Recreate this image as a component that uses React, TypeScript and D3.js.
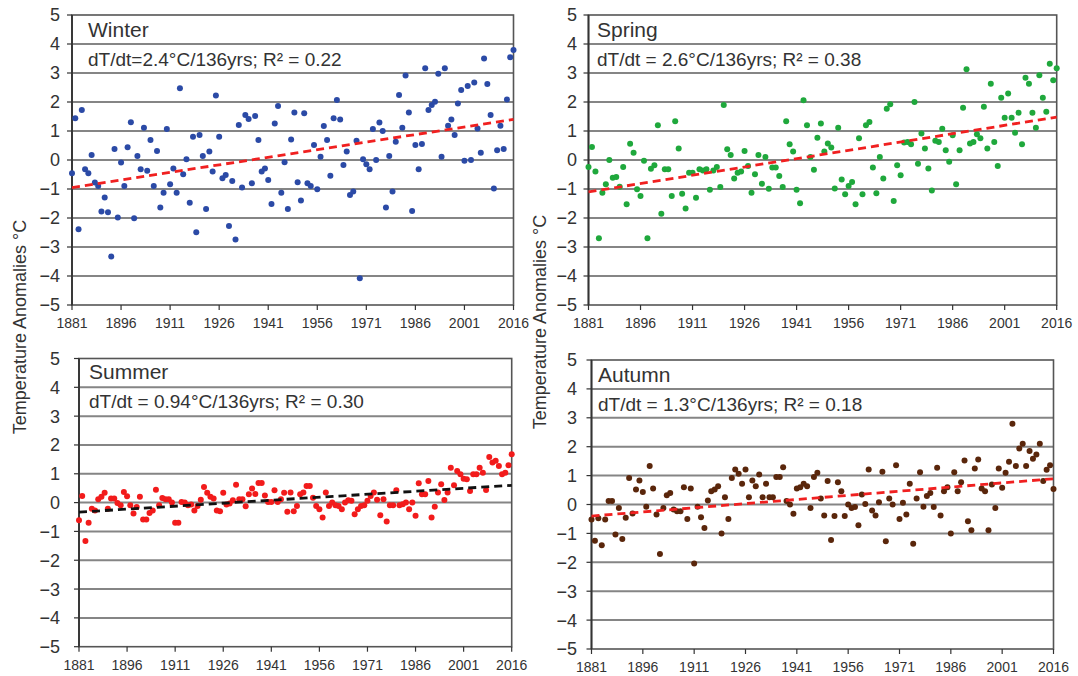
import React from 'react';
import * as d3 from 'd3';

const YEARS = d3.range(1881, 2017);
const X_TICKS = d3.range(1881, 2017, 15);
const Y_TICKS = d3.range(-5, 6);

const SEASONS = ['Winter', 'Spring', 'Summer', 'Autumn'];
const STATS = [
  'dT/dt=2.4°C/136yrs; R² = 0.22',
  'dT/dt = 2.6°C/136yrs; R² = 0.38',
  'dT/dt = 0.94°C/136yrs; R² = 0.30',
  'dT/dt = 1.3°C/136yrs; R² = 0.18',
];

const winter = [
  -0.46, 1.44, -2.39, 1.72, -0.32, -0.46, 0.17, -0.78, -0.9, -1.78,
  -1.29, -1.8, -3.33, 0.38, -1.98, -0.09, -0.9, 0.44, 1.3, -2.01,
  0.14, -0.32, 1.11, -0.37, 0.69, -0.9, 0.31, -1.64, -1.13, 1.07,
  -0.84, -0.29, -1.13, 2.47, -0.49, 0.03, -1.47, 0.8, -2.49, 0.86,
  0.14, -1.69, 0.29, -0.4, 2.22, 0.8, -0.63, -0.52, -2.28, -0.72,
  -2.74, 1.21, -0.95, 1.55, 1.41, -0.8, 1.52, 0.69, -0.4, -0.29,
  -0.69, -1.52, 1.26, 1.86, -1.13, -0.08, -1.69, 0.71, 1.64, -0.77,
  -1.4, 1.61, -0.8, -0.9, 0.52, -1.01, 0.11, 1.17, 0.69, -0.54,
  1.44, 2.07, 1.4, -0.17, 0.29, -1.21, -1.09, 0.66, -4.08, 0.03,
  -0.15, -0.32, 1.07, 0, 1.29, 1.0, -1.64, 0.14, -1.09, 0.63,
  2.24, 1.11, 2.91, 1.64, -1.76, 0.52, -0.32, 0.55, 3.16, 1.72,
  1.9, 2.01, 2.97, 0.11, 3.16, 1.18, 1.4, 0.86, 1.95, 2.41,
  -0.03, 2.55, 0, 2.67, 1.09, 0.25, 3.5, 2.62, 1.55, -0.98,
  0.34, 1.18, 0.38, 2.09, 3.54, 3.79,
];

const spring = [
  -0.24, 0.45, -0.4, -2.7, -1.13, -0.84, 0, -0.61, -0.59, -0.92,
  -0.24, -1.53, 0.56, 0.25, -1.01, -1.24, -0.03, -2.7, -0.3, -0.18,
  1.2, -1.85, -0.32, -0.32, -1.24, 1.34, 0.4, -1.16, -1.67, -0.44,
  -0.44, -1.3, -0.32, -0.36, -0.32, -1.03, -0.36, -0.24, -0.93, 1.9,
  0.37, 0.17, -0.64, -0.44, -0.4, 0.31, -0.21, -1.13, -0.49, 0.17,
  -0.82, 0.1, -0.99, -0.26, -0.26, -0.55, -0.93, 1.34, 0.54, 0.29,
  -1.03, -1.49, 2.06, 1.2, 0.1, -0.34, 0.77, 1.26, 0.29, 0.57,
  0.43, -0.98, 1.11, -0.67, -1.18, -0.9, -0.76, -1.53, 0.75, -1.18,
  1.2, 1.31, -0.26, -1.15, 0.1, -0.64, 1.77, 1.92, -1.41, -0.18,
  -0.53, 0.6, 0.62, 0.54, 2.0, -0.13, 0.91, 0.4, -0.29, -1.05,
  0.66, 0.62, 1.08, 0.34, -0.06, 0.85, -0.84, 0.34, 1.8, 3.13,
  0.57, 0.62, 0.89, 0.75, 1.84, 0.4, 2.63, 0.62, -0.21, 2.15,
  1.46, 2.29, 1.46, 0.94, 1.63, 0.54, 2.84, 2.63, 1.63, 1.11,
  2.92, 2.15, 1.66, 3.32, 2.75, 3.16,
];

const summer = [
  -0.61, 0.23, -1.33, -0.7, -0.21, -0.27, 0.12, 0.2, 0.34, -0.21,
  0.14, 0.14, -0.01, -0.09, 0.37, 0.22, -0.09, -0.38, -0.15, 0.2,
  -0.59, -0.59, -0.36, -0.27, 0.45, -0.09, 0.16, 0.12, 0.12, 0.0,
  -0.7, -0.7, 0.02, 0, -0.09, -0.07, -0.27, -0.12, 0.1, 0.54,
  0.34, 0.2, 0.14, -0.27, -0.3, 0.34, -0.07, -0.03, 0.08, 0.62,
  0.12, 0.12, -0.13, 0.29, 0.49, 0.3, 0.68, 0.68, 0.25, 0.02,
  0.02, 0.43, 0.02, 0.12, 0.34, -0.32, 0.35, -0.3, -0.12, 0.29,
  0.35, 0.58, 0.58, 0.17, -0.12, -0.23, -0.52, 0.35, -0.12, 0,
  -0.09, -0.12, -0.23, 0, 0.08, 0.06, -0.4, -0.23, -0.12, -0.09,
  0.06, 0.23, 0.35, 0.1, -0.44, 0.12, -0.66, -0.09, -0.09, 0.43,
  -0.09, -0.06, 0, -0.23, 0.0, -0.46, 0.67, 0.29, 0.29, 0.75,
  -0.52, -0.14, 0.35, 0.64, 0.09, 0.35, 1.21, 0.6, 1.1, 0.98,
  0.83, 0.81, 0.4, 0.98, 0.98, 1.21, 1.04, 0.44, 1.58, 1.39,
  1.45, 1.27, 0.98, 1.04, 1.3, 1.68,
];

const autumn = [
  -0.52, -1.25, -0.48, -1.41, -0.52, 0.12, 0.12, -1.04, -0.12, -1.19,
  -0.46, 0.92, -0.31, 0.52, 0.83, 0.43, -0.08, 1.33, 0.55, -0.35,
  -1.71, -0.12, 0.32, 0.4, -0.17, -0.23, -0.23, 0.6, -0.5, 0.55,
  -2.04, -0.08, -0.44, -0.81, 0.14, 0.46, 0.52, 0.63, -1.0, 0.25,
  -0.5, 0.92, 1.21, 1.06, 0.72, 1.21, 0.25, 0.83, 0.63, 1.04,
  0.25, 0.72, 0.25, 0.25, 0.95, 0.95, 1.29, 0.12, 0, -0.32,
  0.55, 0.6, 0.72, 0.63, -0.12, 0.95, 1.1, 0.21, -0.38, 0.81,
  -1.23, -0.4, 0.77, 0.46, -0.4, 0, -0.12, -0.09, -0.72, 0.35,
  0.02, 1.21, -0.21, -0.38, 0.08, 1.13, -1.27, 0.21, 0, 1.36,
  -0.5, 0.06, -0.35, 0.72, -1.36, 0.21, 1.12, -0.08, 0.29, 0.4,
  -0.09, 1.27, -0.38, 0.46, 0.6, -1.0, 1.12, 0.46, 0.77, 1.52,
  -0.58, -0.89, 1.25, 1.56, 0.55, 0.46, -0.89, 0.69, -0.12, 1.25,
  0.58, 1.1, 1.48, 2.79, 1.33, 1.94, 2.1, 1.33, 1.85, 1.58,
  1.73, 2.1, 0.81, 1.2, 1.36, 0.54,
];

const SERIES = [winter, spring, summer, autumn];
const TREND_START = [-0.95, -1.1, -0.33, -0.4];
const TREND_END = [1.4, 1.48, 0.6, 0.89];

const DOT_COLORS = ['#2b4aa6', '#1fa83c', '#f21b1b', '#5a260b'];
const TREND_COLORS = ['#f02020', '#f02020', '#111111', '#f02020'];

const LAYOUT = [
  { x0: 72, x1: 513.5, y0: 15, y1: 305, lblX: 60, tx: 88, ty: 37, sy: 66 },
  { x0: 588.5, x1: 1056.7, y0: 15, y1: 305, lblX: 577, tx: 597, ty: 37, sy: 66 },
  { x0: 79, x1: 511.7, y0: 358.5, y1: 646.7, lblX: 60, tx: 89, ty: 379, sy: 408 },
  { x0: 591.5, x1: 1053.5, y0: 360, y1: 649, lblX: 577, tx: 598, ty: 382, sy: 411 },
];

const FONT = '"Liberation Sans", Arial, sans-serif';
const TXT = '#333';

function Panel({ i }: { i: number }) {
  const L = LAYOUT[i];
  const x = d3.scaleLinear().domain([1881, 2016]).range([L.x0, L.x1]);
  const y = d3.scaleLinear().domain([-5, 5]).range([L.y1, L.y0]);
  const data = SERIES[i];
  const trend = d3.line<[number, number]>().x((d) => x(d[0])).y((d) => y(d[1]));
  const fmt = d3.format('d');
  return (
    <g>
      {Y_TICKS.filter((t) => t > -5 && t < 5).map((t) => (
        <line key={'g' + t} x1={L.x0} x2={L.x1} y1={y(t)} y2={y(t)} stroke="#858585" strokeWidth={2} />
      ))}
      <rect x={L.x0} y={L.y0} width={L.x1 - L.x0} height={L.y1 - L.y0} fill="none" stroke="#555" strokeWidth={1.6} />
      {Y_TICKS.map((t) => (
        <g key={'y' + t}>
          <line x1={L.x0 - 5} x2={L.x0} y1={y(t)} y2={y(t)} stroke="#333" strokeWidth={1.2} />
          <text x={L.lblX} y={y(t)} dy="0.36em" textAnchor="end" fontSize={18} fontFamily={FONT} fill={TXT}>
            {fmt(t)}
          </text>
        </g>
      ))}
      {X_TICKS.map((t) => (
        <g key={'x' + t}>
          <line x1={x(t)} x2={x(t)} y1={L.y1} y2={L.y1 + 5} stroke="#333" strokeWidth={1.2} />
          <text x={x(t)} y={L.y1 + 23} textAnchor="middle" fontSize={14} fontFamily={FONT} fill={TXT}>
            {t}
          </text>
        </g>
      ))}
      <line x1={L.x0} x2={L.x0} y1={L.y0} y2={L.y1} stroke="#333" strokeWidth={1.8} />
      {YEARS.map((yr, k) => (
        <circle key={yr} cx={x(yr)} cy={y(data[k])} r={3} fill={DOT_COLORS[i]} />
      ))}
      <path
        d={trend([[1881, TREND_START[i]], [2016, TREND_END[i]]]) || ''}
        fill="none"
        stroke={TREND_COLORS[i]}
        strokeWidth={2.8}
        strokeDasharray="8,5"
      />
      <text x={L.tx} y={L.ty} fontSize={21} fontFamily={FONT} fill={TXT}>
        {SEASONS[i]}
      </text>
      <text x={L.tx} y={L.sy} fontSize={19} fontFamily={FONT} fill={TXT}>
        {STATS[i]}
      </text>
    </g>
  );
}

export default function App() {
  return (
    <svg
      width={1078}
      height={676}
      style={{ position: 'absolute', left: 0, top: 0, background: '#fff' }}
    >
      <rect x={0} y={0} width={1078} height={676} fill="#fff" />
      {[0, 1, 2, 3].map((i) => (
        <Panel key={i} i={i} />
      ))}
      <text
        transform="translate(26,327) rotate(-90)"
        textAnchor="middle"
        fontSize={18}
        fontFamily={FONT}
        fill={TXT}
      >
        Temperature Anomalies °C
      </text>
      <text
        transform="translate(546,322) rotate(-90)"
        textAnchor="middle"
        fontSize={18}
        fontFamily={FONT}
        fill={TXT}
      >
        Temperature Anomalies °C
      </text>
    </svg>
  );
}
